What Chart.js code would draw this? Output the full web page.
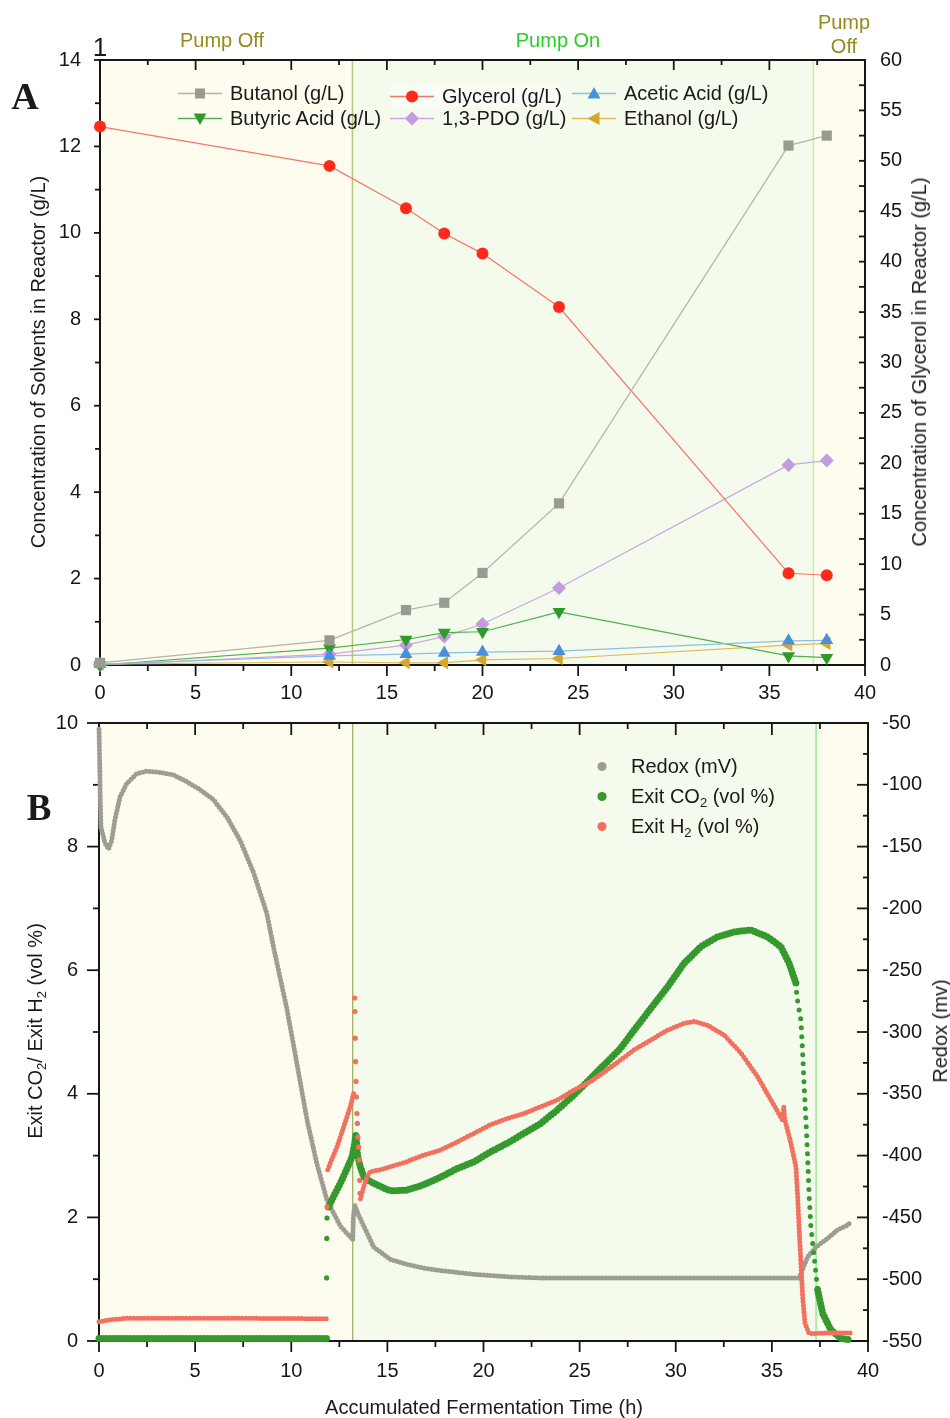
<!DOCTYPE html>
<html>
<head>
<meta charset="utf-8">
<title>Fermentation profile</title>
<script src="https://cdn.jsdelivr.net/npm/chart.js@4.4.1/dist/chart.umd.min.js"></script>
<style>
  html, body { margin: 0; padding: 0; background: #fff; }
  body { position: relative; width: 950px; height: 1418px; overflow: hidden;
         font-family: "Liberation Sans", Arial, sans-serif; color: #1a1a1a; }
  canvas { position: absolute; left: 0; }
  #chartA { top: 0; }
  #chartB { top: 670px; }
  .t { position: absolute; white-space: nowrap; font-size: 20px; line-height: 1.1; }
  .c { transform: translate(-50%, -50%); text-align: center; }
  .r { transform: translate(-50%, -50%) rotate(-90deg); }
  .panel { font-family: "Liberation Serif", "Times New Roman", serif; font-weight: bold; }
  .leg { position: absolute; display: flex; align-items: center; font-size: 20px;
         white-space: nowrap; transform: translateY(-50%); }
  .leg svg { margin-right: 8px; flex: none; }
  sub { font-size: 13px; vertical-align: -4px; line-height: 0; }
</style>
</head>
<body>
<canvas id="chartA" width="950" height="710"></canvas>
<canvas id="chartB" width="950" height="748"></canvas>

<div class="t c" style="left:100px;top:47px;font-size:26px;">1</div>
<div class="t c" style="left:222px;top:40px;color:#948a1e;">Pump Off</div>
<div class="t c" style="left:558px;top:40px;color:#2bcc2b;">Pump On</div>
<div class="t c" style="left:844px;top:34px;color:#948a1e;line-height:24px;">Pump<br>Off</div>

<div class="t c panel" style="left:25px;top:97px;font-size:38px;">A</div>
<div class="t c panel" style="left:39px;top:808px;font-size:37px;">B</div>

<div class="t r" style="left:38px;top:362px;">Concentration of Solvents in Reactor (g/L)</div>
<div class="t r" style="left:919px;top:362px;">Concentration of Glycerol in Reactor (g/L)</div>
<div class="t r" style="left:35px;top:1031px;">Exit CO<sub>2</sub>/ Exit H<sub>2</sub> (vol %)</div>
<div class="t r" style="left:940px;top:1031px;">Redox (mv)</div>
<div class="t c" style="left:484px;top:1407px;">Accumulated Fermentation Time (h)</div>

<div id="legends"></div>

<script>
// ---------- panel A: offline samples ----------
const SAMPLE_HOURS = [0, 12, 16, 18, 20, 24, 36, 38];
const BUTANOL  = [0.05, 0.57, 1.27, 1.44, 2.13, 3.74, 12.02, 12.25];
const GLYCEROL = [53.4, 49.5, 45.3, 42.8, 40.8, 35.5, 9.1, 8.9];
const ACETIC   = [0.02, 0.21, 0.25, 0.28, 0.30, 0.32, 0.56, 0.57];
const BUTYRIC  = [0, 0.39, 0.59, 0.75, 0.77, 1.23, 0.21, 0.17];
const PDO      = [0, 0.25, 0.46, 0.66, 0.95, 1.78, 4.63, 4.73];
const ETHANOL  = [0.02, 0.07, 0.05, 0.05, 0.12, 0.15, 0.46, 0.50];

// ---------- panel B: online probes ----------
const REDOX_HOURS = [0, 0.02, 0.04, 0.06, 0.08, 0.1, 0.31, 0.49, 0.66, 0.83, 1.09, 1.44, 1.96, 2.48,
  3.18, 3.87, 4.57, 5.26, 5.95, 6.65, 7.34, 8.04, 8.73, 9.1, 9.77, 10.3, 10.82, 11.34, 11.86, 12.55,
  13.2, 13.23, 13.3, 13.5, 13.77, 14.29, 15.16, 16.0, 16.9, 17.76, 19.5, 21.23, 22.97, 36.42, 36.86,
  37.29, 37.9, 38.42, 38.85, 39.1];
const REDOX_MV = [-55, -70, -86, -106, -120, -134, -147, -152, -145, -128, -110, -99, -91, -89,
  -90, -92, -97.5, -104, -112, -126, -145, -171, -204, -233, -281, -326, -371, -407, -436, -457,
  -468, -450, -440, -448, -457, -474, -484, -488, -491, -493, -496, -498, -499, -499, -482,
  -474, -467, -460, -457, -454];

const CO2_HOURS = [0, 11.86, 11.9, 11.94, 12.2, 12.55, 12.9, 13.16, 13.3, 13.36, 13.45, 13.59, 13.77,
  14.11, 14.64, 15.16, 16.0, 16.9, 17.76, 18.63, 19.5, 20.36, 21.23, 22.1, 22.97, 23.84, 24.7, 25.57,
  26.44, 27.14, 27.83, 28.7, 29.57, 30.43, 31.3, 32.17, 33.04, 33.9, 34.77, 35.47, 35.9, 36.25, 36.3,
  37.38, 37.64, 38.07, 38.6, 39.1];
const CO2_PCT = [0.04, 0.04, null, 2.17, 2.34, 2.55, 2.79, 2.98, 3.2, 3.35, 3.0, 2.82, 2.66,
  2.58, 2.5, 2.43, 2.44, 2.53, 2.65, 2.79, 2.9, 3.06, 3.2, 3.36, 3.52, 3.74, 3.98, 4.25,
  4.52, 4.74, 5.03, 5.38, 5.73, 6.11, 6.38, 6.54, 6.62, 6.65, 6.54, 6.38, 6.11, 5.79, null,
  0.83, 0.45, 0.18, 0.04, 0.02];
const CO2_JUMP_HOURS = [11.84, 11.85, 11.86];
const CO2_JUMP_PCT = [1.02, 1.66, 1.99];
const CO2_DROP_HOURS = [36.25, 36.3, 36.51, 36.6, 36.68, 36.77, 36.86, 36.94, 37.03, 37.2, 37.38];
const CO2_DROP_PCT = [5.79, 5.57, 5.19, 4.66, 4.12, 3.58, 2.98, 2.34, 1.85, 1.36, 0.83];

const H2_HOURS = [0, 0.5, 1.5, 6, 11.86, 11.87, 11.9, 12.03, 12.38, 12.73, 13.07, 13.28, 13.29, 13.6,
  13.77, 13.94, 14.11, 14.64, 15.5, 16.0, 16.9, 17.76, 18.63, 19.5, 20.36, 21.23, 22.1, 22.97, 23.84,
  24.7, 25.57, 26.44, 27.14, 27.83, 28.7, 29.57, 30.43, 30.95, 31.65, 32.52, 33.39, 34.25, 34.95,
  35.55, 35.62, 35.66, 35.99, 36.25, 36.34, 36.42, 36.51, 36.6, 36.72, 36.94, 38, 39.1];
const H2_PCT = [0.31, 0.34, 0.37, 0.37, 0.36, null, 2.77, 2.88, 3.14, 3.47, 3.79, 4.05, null, 2.3,
  2.5, 2.66, 2.74, 2.77, 2.85, 2.9, 3.01, 3.09, 3.22, 3.36, 3.5, 3.6, 3.68, 3.79, 3.9,
  4.06, 4.2, 4.39, 4.55, 4.71, 4.87, 5.03, 5.14, 5.17, 5.11, 4.95, 4.66, 4.28, 3.9,
  3.58, 3.79, 3.6, 3.2, 2.82, 2.34, 1.8, 1.26, 0.72, 0.29, 0.12, 0.13, 0.13];
const H2_SPIKE_HOURS = [11.86, 13.3, 13.31, 13.33, 13.35, 13.37, 13.39, 13.42, 13.44, 13.47, 13.5, 13.53, 13.56, 13.58];
const H2_SPIKE_PCT = [2.17, 5.55, 5.33, 4.9, 4.52, 4.2, 3.95, 3.68, 3.52, 3.3, 3.14, 2.93, 2.6, 2.39];

// pump switch times (h)
const PUMP_ON_H = 13.2;
const PUMP_OFF_H = 37.3;

// tick labels
const HOUR_TICKS = [0, 5, 10, 15, 20, 25, 30, 35, 40];
const SOLVENT_TICKS = [0, 2, 4, 6, 8, 10, 12, 14];
const GLYCEROL_TICKS = [0, 5, 10, 15, 20, 25, 30, 35, 40, 45, 50, 55, 60];
const GAS_TICKS = [0, 2, 4, 6, 8, 10];
const REDOX_TICKS = [-550, -500, -450, -400, -350, -300, -250, -200, -150, -100, -50];

const FONT = '"Liberation Sans", Arial, sans-serif';
const INK = '#161616';

function pts(xs, ys) { return xs.map((x, i) => ({ x, y: ys[i] })); }
function useTicks(list) { return s => { s.ticks = list.map(v => ({ value: v })); }; }
function mids(list) { return list.slice(1).map((v, i) => (v + list[i]) / 2); }

function tick(ctx, a, edge, p, len, inward) {
  const d = inward ? -1 : 1;
  ctx.beginPath();
  if (edge === 'bottom') { ctx.moveTo(p, a.bottom); ctx.lineTo(p, a.bottom + d * len); }
  else if (edge === 'top') { ctx.moveTo(p, a.top); ctx.lineTo(p, a.top - d * len); }
  else if (edge === 'left') { ctx.moveTo(a.left, p); ctx.lineTo(a.left - d * len, p); }
  else { ctx.moveTo(a.right, p); ctx.lineTo(a.right + d * len, p); }
  ctx.stroke();
}

function vline(ctx, x, a, color, w) {
  ctx.strokeStyle = color;
  ctx.lineWidth = w;
  ctx.beginPath();
  ctx.moveTo(x, a.top);
  ctx.lineTo(x, a.bottom);
  ctx.stroke();
}

/* shaded pump phases, frame and tick marks */
const framePlugin = {
  id: 'frame',
  beforeDraw(chart, _args, o) {
    const { ctx, chartArea: a } = chart;
    const x = chart.scales.x;
    const on = x.getPixelForValue(PUMP_ON_H), off = x.getPixelForValue(PUMP_OFF_H);
    ctx.save();
    ctx.fillStyle = '#fdfcee';
    ctx.fillRect(a.left, a.top, a.width, a.height);
    ctx.fillStyle = '#f4fbec';
    ctx.fillRect(on, a.top, off - on, a.height);
    vline(ctx, on, a, o.onLine, o.onWidth);
    vline(ctx, off, a, o.offLine, o.offWidth);
    ctx.restore();
  },
  beforeDatasetsDraw(chart, _args, o) {
    const { ctx, chartArea: a } = chart;
    ctx.save();
    ctx.strokeStyle = INK;
    ctx.lineWidth = 2;
    ctx.strokeRect(a.left, a.top, a.width, a.height);
    ctx.lineWidth = 1.8;
    o.marks.forEach(m => {
      const s = chart.scales[m.scale];
      m.major.forEach(v => tick(ctx, a, m.edge, s.getPixelForValue(v), m.len[0], m.inward));
      mids(m.major).forEach(v => tick(ctx, a, m.edge, s.getPixelForValue(v), m.len[1], m.inward));
    });
    ctx.restore();
  }
};

function axis(position, min, max, list, padding, size, extra) {
  return Object.assign({
    type: 'linear', position, min, max,
    grid: { display: false, drawTicks: false },
    border: { display: false },
    afterBuildTicks: useTicks(list),
    ticks: { font: { family: FONT, size: 20 }, color: INK, padding, maxRotation: 0, autoSkip: false },
    afterFit: s => { if (s.isHorizontal()) s.height = size; else s.width = size; }
  }, extra || {});
}

// ---------- panel A ----------
const SERIES_A = [
  { label: 'Butanol (g/L)', data: BUTANOL, line: '#b4b4ac', fill: '#9a9a92', shape: 'rect', axis: 'y' },
  { label: 'Glycerol (g/L)', data: GLYCEROL, line: '#f4766a', fill: '#ff2a1c', shape: 'circle', axis: 'y2' },
  { label: 'Acetic Acid (g/L)', data: ACETIC, line: '#8fbde8', fill: '#4a8fdb', shape: 'up', axis: 'y' },
  { label: 'Butyric Acid (g/L)', data: BUTYRIC, line: '#4fb04a', fill: '#2f9a2c', shape: 'down', axis: 'y' },
  { label: '1,3-PDO (g/L)', data: PDO, line: '#c9a6e3', fill: '#c59be0', shape: 'diamond', axis: 'y' },
  { label: 'Ethanol (g/L)', data: ETHANOL, line: '#dcbb5c', fill: '#d4a72a', shape: 'left', axis: 'y' }
];
const SHAPES = {
  rect: { style: 'rect', rot: 0, r: 7.2 },
  circle: { style: 'circle', rot: 0, r: 6 },
  up: { style: 'triangle', rot: 0, r: 7.5 },
  down: { style: 'triangle', rot: 180, r: 7.5 },
  diamond: { style: 'rectRot', rot: 0, r: 7 },
  left: { style: 'triangle', rot: 270, r: 7.5 }
};

new Chart(document.getElementById('chartA'), {
  type: 'scatter',
  data: {
    datasets: SERIES_A.map((s, i) => ({
      label: s.label,
      data: pts(SAMPLE_HOURS, s.data),
      yAxisID: s.axis,
      showLine: true,
      borderColor: s.line,
      borderWidth: 1.2,
      pointStyle: SHAPES[s.shape].style,
      pointRotation: SHAPES[s.shape].rot,
      pointRadius: SHAPES[s.shape].r,
      pointBackgroundColor: s.fill,
      pointBorderWidth: 0,
      clip: false,
      order: i
    }))
  },
  options: {
    responsive: false, animation: false, devicePixelRatio: 1, events: [],
    layout: { padding: { top: 60, left: 0, right: 0, bottom: 0 } },
    plugins: {
      legend: { display: false }, tooltip: { enabled: false },
      frame: {
        onLine: '#b9c77c', onWidth: 1.5, offLine: '#c9efa6', offWidth: 1.5,
        marks: [
          { scale: 'x', edge: 'bottom', major: HOUR_TICKS, len: [11, 6], inward: false },
          { scale: 'x', edge: 'top', major: HOUR_TICKS, len: [10, 5], inward: true },
          { scale: 'y', edge: 'left', major: SOLVENT_TICKS, len: [6, 5], inward: false },
          { scale: 'y2', edge: 'right', major: GLYCEROL_TICKS, len: [6, 6], inward: true }
        ]
      }
    },
    scales: {
      x: axis('bottom', 0, 40, HOUR_TICKS, 16, 45),
      y: axis('left', 0, 14, SOLVENT_TICKS, 19, 100),
      y2: axis('right', 0, 60, GLYCEROL_TICKS, 15, 85)
    }
  },
  plugins: [framePlugin]
});

// ---------- panel B ----------
const REDOX_COLOR = '#9d9d93';
const CO2_COLOR = '#35992e';
const H2_COLOR = '#f2705f';

function dotted(color, width, gap, axisId, xs, ys, order) {
  return {
    data: pts(xs, ys), yAxisID: axisId, showLine: true, spanGaps: false,
    borderColor: color, borderWidth: width, borderDash: [0, gap], borderCapStyle: 'round',
    pointRadius: 0, clip: false, order
  };
}
function sparse(color, axisId, xs, ys, order) {
  return {
    data: pts(xs, ys), yAxisID: axisId, showLine: false,
    pointRadius: 2.6, pointBackgroundColor: color, pointBorderWidth: 0, clip: false, order
  };
}

new Chart(document.getElementById('chartB'), {
  type: 'scatter',
  data: {
    datasets: [
      dotted(REDOX_COLOR, 5, 3.5, 'yR', REDOX_HOURS, REDOX_MV, 3),
      dotted(CO2_COLOR, 7, 3.5, 'y', CO2_HOURS, CO2_PCT, 2),
      dotted(CO2_COLOR, 5, 9, 'y', CO2_DROP_HOURS, CO2_DROP_PCT, 2),
      sparse(CO2_COLOR, 'y', CO2_JUMP_HOURS, CO2_JUMP_PCT, 2),
      dotted(H2_COLOR, 5, 3.5, 'y', H2_HOURS, H2_PCT, 1),
      sparse(H2_COLOR, 'y', H2_SPIKE_HOURS, H2_SPIKE_PCT, 1)
    ]
  },
  options: {
    responsive: false, animation: false, devicePixelRatio: 1, events: [],
    layout: { padding: { top: 53, left: 0, right: 0, bottom: 0 } },
    plugins: {
      legend: { display: false }, tooltip: { enabled: false },
      frame: {
        onLine: '#8a9a3c', onWidth: 1, offLine: '#9be89a', offWidth: 1.5,
        marks: [
          { scale: 'x', edge: 'bottom', major: HOUR_TICKS, len: [11, 6], inward: false },
          { scale: 'x', edge: 'top', major: HOUR_TICKS, len: [12, 6], inward: true },
          { scale: 'y', edge: 'left', major: GAS_TICKS, len: [12, 6], inward: false },
          { scale: 'yR', edge: 'right', major: REDOX_TICKS, len: [11, 5], inward: true }
        ]
      }
    },
    scales: {
      x: axis('bottom', 0, 40, HOUR_TICKS, 18, 77),
      y: axis('left', 0, 10, GAS_TICKS, 21, 99),
      yR: axis('right', -550, -50, REDOX_TICKS, 14, 82)
    }
  },
  plugins: [framePlugin]
});

// ---------- legends (HTML) ----------
function markerSvg(shape, fill) {
  switch (shape) {
    case 'rect': return `<rect x="17" y="3" width="10" height="10" fill="${fill}"/>`;
    case 'circle': return `<circle cx="22" cy="8" r="6" fill="${fill}"/>`;
    case 'up': return `<polygon points="22,1.5 28.5,13 15.5,13" fill="${fill}"/>`;
    case 'down': return `<polygon points="15.5,3 28.5,3 22,14.5" fill="${fill}"/>`;
    case 'diamond': return `<polygon points="22,1 29,8 22,15 15,8" fill="${fill}"/>`;
    case 'left': return `<polygon points="15.5,8 27.5,1.5 27.5,14.5" fill="${fill}"/>`;
  }
  return '';
}

const LEGEND_A_POS = [[178, 93], [390, 96], [572, 93], [178, 118], [390, 118], [572, 118]];
const legends = document.getElementById('legends');
SERIES_A.forEach((s, i) => {
  const [x, y] = LEGEND_A_POS[i];
  const div = document.createElement('div');
  div.className = 'leg';
  div.style.left = x + 'px';
  div.style.top = y + 'px';
  if (s.shape === 'circle') div.style.background = 'rgba(255,255,255,0.55)';
  div.innerHTML = `<svg width="44" height="16" viewBox="0 0 44 16">
      <line x1="0" y1="8" x2="44" y2="8" stroke="${s.line}" stroke-width="1.3"/>${markerSvg(s.shape, s.fill)}</svg><span>${s.label}</span>`;
  legends.appendChild(div);
});

const LEGEND_B = [
  { html: 'Redox (mV)', color: REDOX_COLOR, y: 766 },
  { html: 'Exit CO<sub>2</sub> (vol %)', color: CO2_COLOR, y: 796 },
  { html: 'Exit H<sub>2</sub> (vol %)', color: H2_COLOR, y: 826 }
];
LEGEND_B.forEach(e => {
  const div = document.createElement('div');
  div.className = 'leg';
  div.style.left = '596px';
  div.style.top = e.y + 'px';
  div.innerHTML = `<svg width="12" height="12" viewBox="0 0 12 12" style="margin-right:23px">
      <circle cx="6" cy="6" r="4.6" fill="${e.color}"/></svg><span>${e.html}</span>`;
  legends.appendChild(div);
});
</script>
</body>
</html>
